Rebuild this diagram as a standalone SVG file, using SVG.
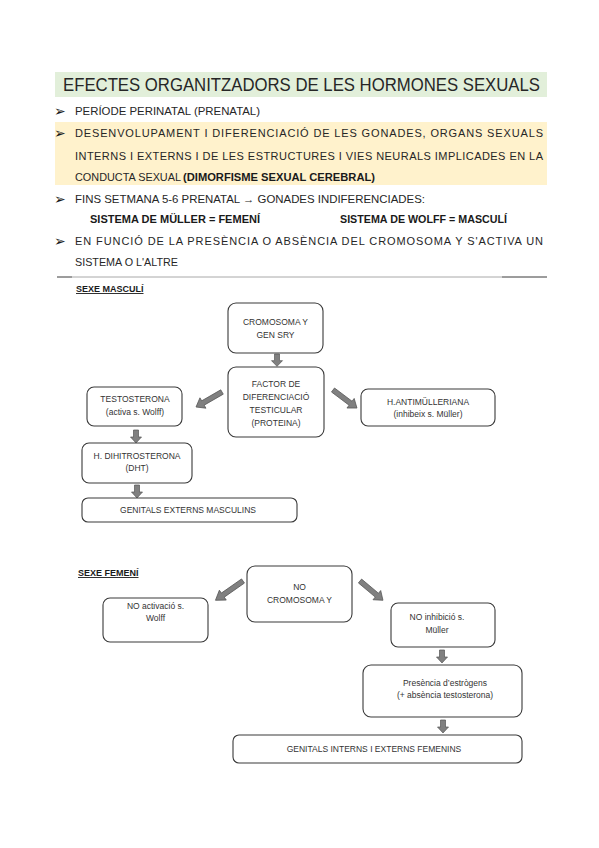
<svg xmlns="http://www.w3.org/2000/svg" width="599" height="848" viewBox="0 0 599 848">
<defs>
<style>
.t{font-family:"Liberation Sans",Arial,sans-serif;font-size:11px;fill:#262626}
.b{font-weight:bold;fill:#1a1a1a}
.bul{font-family:"DejaVu Sans",sans-serif;font-size:14px;fill:#1a1a1a}
.box{fill:#fff;stroke:#3a3a3a;stroke-width:1.1}
.bt{font-family:"Liberation Sans",Arial,sans-serif;font-size:8.5px;fill:#333;text-anchor:middle}
.hd{font-family:"Liberation Sans",Arial,sans-serif;font-size:9px;font-weight:bold;fill:#1a1a1a;text-decoration:underline}
.arr{fill:#808080;stroke:#555;stroke-width:0.7}
</style>
<path id="da" d="M-2.5,0 H2.5 V7 H5.5 L0,13 L-5.5,7 H-2.5 Z"/>
<path id="ha" d="M0,-2.5 H22 V-6 L30,0 L22,6 V2.5 H0 Z"/>
</defs>

<!-- header -->
<rect x="55" y="72" width="492" height="25" fill="#e2efda"/>
<text x="63" y="91" font-family="Liberation Sans,Arial,sans-serif" font-size="18" fill="#262626" textLength="477" lengthAdjust="spacingAndGlyphs">EFECTES ORGANITZADORS DE LES HORMONES SEXUALS</text>
<rect x="55" y="122" width="492" height="63" fill="#fff2cc"/>

<text class="bul" x="54" y="116">➢</text>
<text class="t" x="75" y="115" textLength="185" lengthAdjust="spacingAndGlyphs">PERÍODE PERINATAL (PRENATAL)</text>
<text class="bul" x="54" y="138">➢</text>
<text class="t" x="75" y="137" textLength="468" lengthAdjust="spacing">DESENVOLUPAMENT I DIFERENCIACIÓ DE LES GONADES, ORGANS SEXUALS</text>
<text class="t" x="75" y="160" textLength="468" lengthAdjust="spacing">INTERNS I EXTERNS I DE LES ESTRUCTURES I VIES NEURALS IMPLICADES EN LA</text>
<text class="t" x="75" y="181" textLength="106" lengthAdjust="spacingAndGlyphs">CONDUCTA SEXUAL</text>
<text class="t b" x="183" y="181" textLength="192" lengthAdjust="spacingAndGlyphs">(DIMORFISME SEXUAL CEREBRAL)</text>
<text class="bul" x="54" y="204">➢</text>
<text class="t" x="75" y="203" textLength="350" lengthAdjust="spacingAndGlyphs">FINS SETMANA 5-6 PRENATAL → GONADES INDIFERENCIADES:</text>
<text class="t b" x="90" y="223" textLength="170" lengthAdjust="spacingAndGlyphs">SISTEMA DE MÜLLER = FEMENÍ</text>
<text class="t b" x="340" y="223" textLength="167" lengthAdjust="spacingAndGlyphs">SISTEMA DE WOLFF = MASCULÍ</text>
<text class="bul" x="54" y="246">➢</text>
<text class="t" x="75" y="245" textLength="468" lengthAdjust="spacing">EN FUNCIÓ DE LA PRESÈNCIA O ABSÈNCIA DEL CROMOSOMA Y S'ACTIVA UN</text>
<text class="t" x="75" y="266" textLength="103" lengthAdjust="spacingAndGlyphs">SISTEMA O L'ALTRE</text>
<line x1="57" y1="277" x2="547" y2="277" stroke="#a8a8a8" stroke-width="1"/>
<line x1="57" y1="277" x2="72" y2="277" stroke="#666" stroke-width="1"/>
<line x1="502" y1="277" x2="547" y2="277" stroke="#666" stroke-width="1"/>

<text class="hd" x="76" y="292">SEXE MASCULÍ</text>
<text class="hd" x="78" y="576">SEXE FEMENÍ</text>

<!-- connectors -->
<g id="connectors">
<use href="#da" class="arr" transform="translate(277,354) scale(1,0.95)"/>
<use href="#ha" class="arr" transform="translate(222,392) rotate(150)"/>
<use href="#ha" class="arr" transform="translate(333,390) rotate(37)"/>
<use href="#da" class="arr" transform="translate(136,430)"/>
<use href="#da" class="arr" transform="translate(137,485)"/>
<use href="#ha" class="arr" transform="translate(243,581) rotate(145) scale(1.12,1)"/>
<use href="#ha" class="arr" transform="translate(360,581) rotate(40)"/>
<use href="#da" class="arr" transform="translate(442,650)"/>
<use href="#da" class="arr" transform="translate(443,720)"/>
</g>

<!-- masculí -->
<g id="cromY">
<rect class="box" x="228" y="303" width="95" height="50" rx="8"/>
<text class="bt" x="275.5" y="325">CROMOSOMA Y</text>
<text class="bt" x="275.5" y="338">GEN SRY</text>
</g>
<g id="factor">
<rect class="box" x="228" y="367" width="96" height="70" rx="8"/>
<text class="bt" x="276" y="387">FACTOR DE</text>
<text class="bt" x="276" y="400">DIFERENCIACIÓ</text>
<text class="bt" x="276" y="413">TESTICULAR</text>
<text class="bt" x="276" y="426">(PROTEINA)</text>
</g>
<g id="testo">
<rect class="box" x="87" y="387" width="95" height="39" rx="7"/>
<text class="bt" x="135" y="402">TESTOSTERONA</text>
<text class="bt" x="135" y="415">(activa s. Wolff)</text>
</g>
<g id="antimul">
<rect class="box" x="361" y="389" width="134" height="37" rx="7"/>
<text class="bt" x="428" y="405">H.ANTIMÜLLERIANA</text>
<text class="bt" x="428" y="417">(inhibeix s. Müller)</text>
</g>
<g id="dht">
<rect class="box" x="82" y="443" width="110" height="40" rx="7"/>
<text class="bt" x="137" y="459">H. DIHITROSTERONA</text>
<text class="bt" x="137" y="471">(DHT)</text>
</g>
<g id="genMasc">
<rect class="box" x="82" y="498" width="215" height="24" rx="6"/>
<text class="bt" x="188" y="513">GENITALS  EXTERNS MASCULINS</text>
</g>

<!-- femení -->
<g id="noCrom">
<rect class="box" x="247" y="566" width="105" height="56" rx="8"/>
<text class="bt" x="299.5" y="590">NO</text>
<text class="bt" x="299.5" y="603">CROMOSOMA Y</text>
</g>
<g id="noWolff">
<rect class="box" x="103" y="598" width="105" height="44" rx="7"/>
<text class="bt" x="155.5" y="609">NO activació s.</text>
<text class="bt" x="155.5" y="621">Wolff</text>
</g>
<g id="noMuller">
<rect class="box" x="391" y="603" width="104" height="44" rx="7"/>
<text class="bt" x="437" y="620">NO inhibició s.</text>
<text class="bt" x="437" y="633">Müller</text>
</g>
<g id="estrogen">
<rect class="box" x="363" y="665" width="159" height="52" rx="8"/>
<text class="bt" x="445" y="686">Presència d’estrògens</text>
<text class="bt" x="445" y="698">(+ absència testosterona)</text>
</g>
<g id="genFem">
<rect class="box" x="233" y="735" width="289" height="28" rx="6"/>
<text class="bt" x="374" y="752">GENITALS INTERNS I EXTERNS FEMENINS</text>
</g>
</svg>
